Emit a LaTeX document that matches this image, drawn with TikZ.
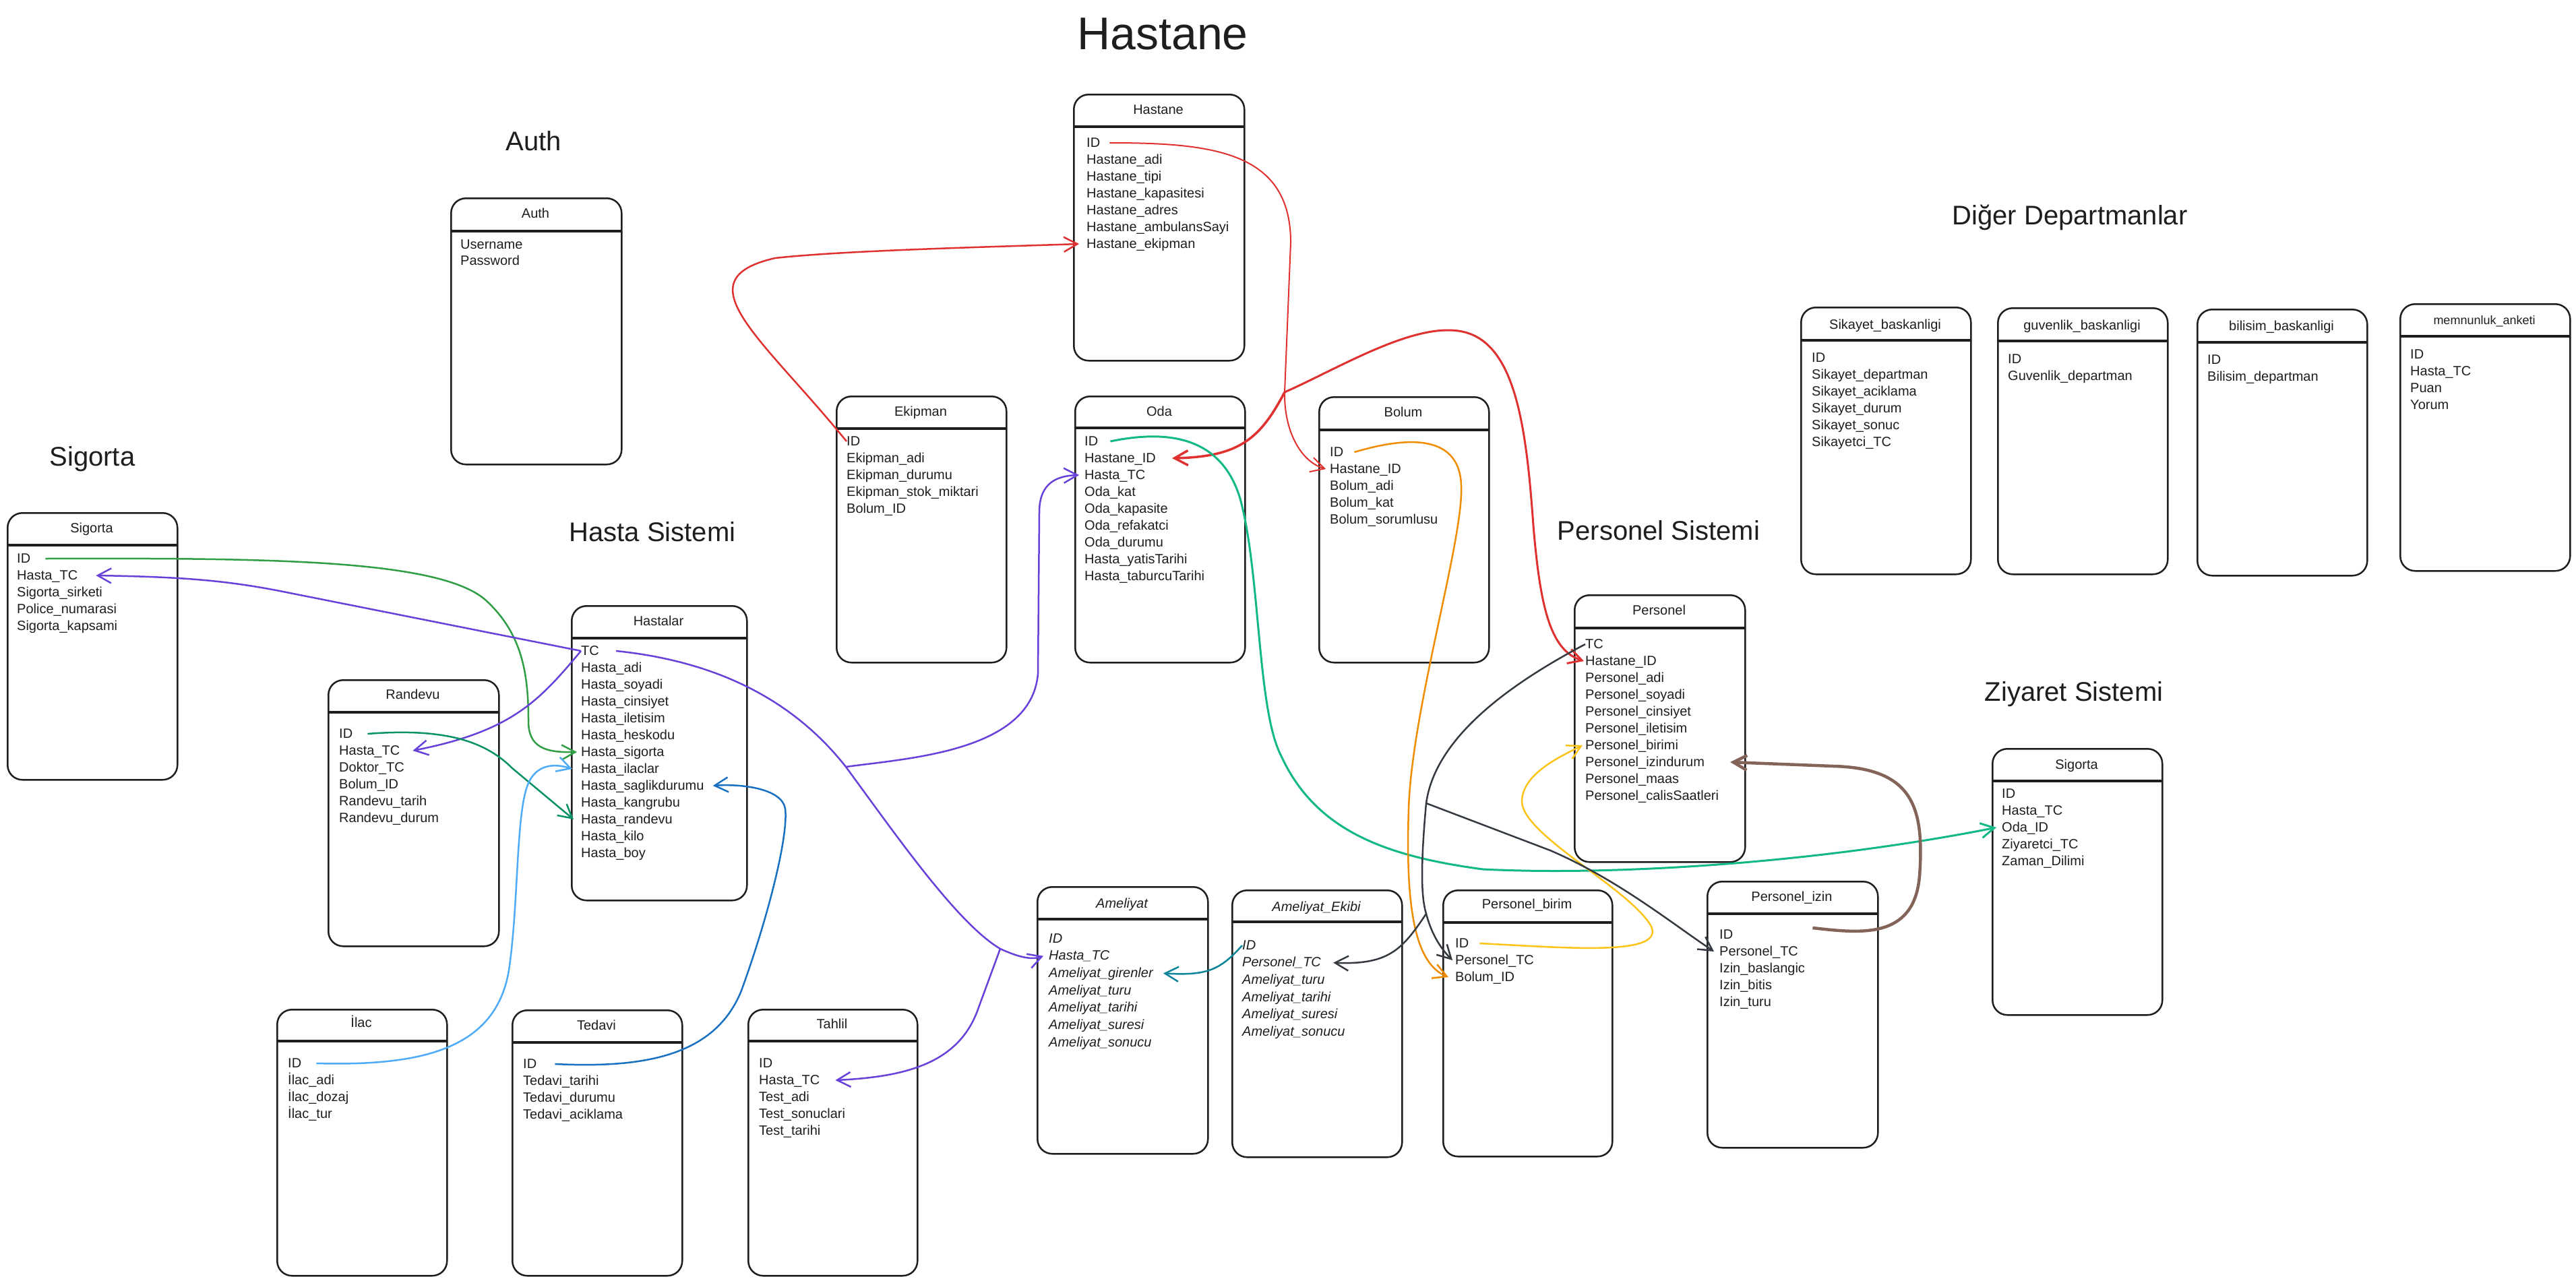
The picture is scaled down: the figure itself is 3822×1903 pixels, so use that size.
\documentclass[tikz,border=0pt]{standalone}
\usepackage{fontspec}
\setmainfont{Liberation Sans}
\usetikzlibrary{arrows.meta}
\definecolor{ink}{HTML}{1E1E1E}
\definecolor{cRed}{HTML}{E03131}
\definecolor{cGreen}{HTML}{2F9E44}
\definecolor{cPurple}{HTML}{6741D9}
\definecolor{cGreenR}{HTML}{099268}
\definecolor{cLBlue}{HTML}{4DABF7}
\definecolor{cBlue}{HTML}{1971C2}
\definecolor{cTeal}{HTML}{12B886}
\definecolor{cOrange}{HTML}{F08C00}
\definecolor{cYellow}{HTML}{FCC419}
\definecolor{cBrown}{HTML}{846358}
\definecolor{cDark}{HTML}{343A40}
\definecolor{cTeal2}{HTML}{0C8599}
\newcommand\dbrowfont{\fontsize{20}{24}\selectfont}
\def\dbsep{25}
\newcommand\dbbox[8]{%
  \node[tbox, minimum width={(#4-#2)*1pt}, minimum height={(#5-#3)*1pt}] (#1) at (#2,#3) {};
  \draw[tdiv] (#2,#6) -- (#4,#6);
  \node[thead] (#1-h) at ({(#2+#4)/2},{#7+6}) {#8};
}
\newcommand\dbrows[5][]{%
  \foreach \r [count=\i] in {#5} {\node[trow,#1] (#2-\i) at (#3,{#4+\dbsep*(\i-1)+6}) {\r};}
}
\tikzset{
  tbox/.style={draw=ink, line width=2.5pt, rounded corners=22pt, anchor=north west, inner sep=0pt},
  tdiv/.style={draw=ink, line width=4pt},
  thead/.style={anchor=base, inner sep=0pt, font=\dbrowfont, text=ink},
  trow/.style={anchor=base west, inner sep=0pt, text height=13pt, text depth=1pt, font=\dbrowfont, text=ink},
  lbl/.style={anchor=base, inner sep=0pt, font=\fontsize{40}{48}\selectfont, text=ink},
  conn/.style={line width=2.5pt, -{Straight Barb[length=20pt,width=22pt]}},
  plain/.style={line width=2.5pt},
}
\begin{document}
\begin{tikzpicture}[x=1pt,y=-1pt]
\fill[white] (0,0) rectangle (3822,1903);
\useasboundingbox (0,0) rectangle (3822,1903);

% titles
\node[anchor=base, inner sep=0pt, font=\fontsize{68}{80}\selectfont, text=ink] (title) at (1725,73) {Hastane};
\node[lbl] (lauth) at (792,223) {Auth};
\node[lbl] (lsig) at (137,691) {Sigorta};
\node[lbl] (lhasta) at (968,803) {Hasta Sistemi};
\node[lbl] (lpers) at (2461,801) {Personel Sistemi};
\node[lbl] (ldiger) at (3071,333) {Diğer Departmanlar};
\node[lbl] (lziy) at (3077,1040) {Ziyaret Sistemi};

% tables
\dbbox{auth}{668}{293}{921}{688}{343}{317}{Auth}
\def\dbsep{24}
\dbrows{auth}{683}{363}{Username,Password}
\def\dbsep{25}

\dbbox{sigorta}{10}{760}{262}{1156}{809}{784}{Sigorta}
\dbrows{sigorta}{25}{829}{ID,Hasta\_TC,Sigorta\_sirketi,Police\_numarasi,Sigorta\_kapsami}

\dbbox{hastalar}{847}{898}{1107}{1335}{947}{922}{Hastalar}
\dbrows{hastalar}{862}{966}{TC,Hasta\_adi,Hasta\_soyadi,Hasta\_cinsiyet,Hasta\_iletisim,Hasta\_heskodu,Hasta\_sigorta,Hasta\_ilaclar,Hasta\_saglikdurumu,Hasta\_kangrubu,Hasta\_randevu,Hasta\_kilo,Hasta\_boy}

\dbbox{randevu}{486}{1008}{739}{1403}{1057}{1031}{Randevu}
\dbrows{randevu}{503}{1089}{ID,Hasta\_TC,Doktor\_TC,Bolum\_ID,Randevu\_tarih,Randevu\_durum}

\dbbox{ilac}{410}{1497}{662}{1892}{1545}{1518}{İlac}
\dbrows{ilac}{427}{1578}{ID,İlac\_adi,İlac\_dozaj,İlac\_tur}

\dbbox{tedavi}{759}{1498}{1011}{1892}{1547}{1522}{Tedavi}
\dbrows{tedavi}{776}{1579}{ID,Tedavi\_tarihi,Tedavi\_durumu,Tedavi\_aciklama}

\dbbox{tahlil}{1109}{1497}{1360}{1892}{1545}{1520}{Tahlil}
\dbrows{tahlil}{1126}{1578}{ID,Hasta\_TC,Test\_adi,Test\_sonuclari,Test\_tarihi}

\dbbox{hastane}{1592}{139}{1845}{534}{188}{163}{Hastane}
\dbrows{hastane}{1612}{212}{ID,Hastane\_adi,Hastane\_tipi,Hastane\_kapasitesi,Hastane\_adres,Hastane\_ambulansSayi,Hastane\_ekipman}

\dbbox{ekipman}{1240}{587}{1492}{982}{636}{611}{Ekipman}
\dbrows{ekipman}{1256}{655}{ID,Ekipman\_adi,Ekipman\_durumu,Ekipman\_stok\_miktari,Bolum\_ID}

\dbbox{oda}{1594}{587}{1846}{982}{635}{611}{Oda}
\dbrows{oda}{1609}{655}{ID,Hastane\_ID,Hasta\_TC,Oda\_kat,Oda\_kapasite,Oda\_refakatci,Oda\_durumu,Hasta\_yatisTarihi,Hasta\_taburcuTarihi}

\dbbox{bolum}{1956}{588}{2208}{982}{638}{612}{Bolum}
\dbrows{bolum}{1973}{671}{ID,Hastane\_ID,Bolum\_adi,Bolum\_kat,Bolum\_sorumlusu}

\dbbox{personel}{2335}{882}{2588}{1278}{932}{906}{Personel}
\dbrows{personel}{2352}{956}{TC,Hastane\_ID,Personel\_adi,Personel\_soyadi,Personel\_cinsiyet,Personel\_iletisim,Personel\_birimi,Personel\_izindurum,Personel\_maas,Personel\_calisSaatleri}

\dbbox{sikayet}{2671}{455}{2923}{851}{505}{482}{Sikayet\_baskanligi}
\dbrows{sikayet}{2688}{531}{ID,Sikayet\_departman,Sikayet\_aciklama,Sikayet\_durum,Sikayet\_sonuc,Sikayetci\_TC}

\dbbox{guvenlik}{2963}{456}{3215}{851}{506}{483}{guvenlik\_baskanligi}
\dbrows{guvenlik}{2979}{533}{ID,Guvenlik\_departman}

\dbbox{bilisim}{3259}{458}{3511}{853}{508}{484}{bilisim\_baskanligi}
\dbrows{bilisim}{3275}{534}{ID,Bilisim\_departman}

\dbbox{memnun}{3560}{450}{3812}{846}{499}{475}{\fontsize{18}{22}\selectfont memnunluk\_anketi}
\dbrows{memnun}{3576}{526}{ID,Hasta\_TC,Puan,Yorum}

\dbbox{zsig}{2955}{1110}{3207}{1505}{1159}{1135}{Sigorta}
\dbrows{zsig}{2970}{1178}{ID,Hasta\_TC,Oda\_ID,Ziyaretci\_TC,Zaman\_Dilimi}

\def\dbsep{25.7}
\dbbox{amel}{1538}{1315}{1791}{1711}{1364}{1341}{\itshape Ameliyat}
\dbrows[font=\dbrowfont\itshape]{amel}{1556}{1393}{ID,Hasta\_TC,Ameliyat\_girenler,Ameliyat\_turu,Ameliyat\_tarihi,Ameliyat\_suresi,Ameliyat\_sonucu}

\dbbox{aekibi}{1827}{1320}{2079}{1716}{1368}{1346}{\itshape Ameliyat\_Ekibi}
\dbrows[font=\dbrowfont\itshape]{aekibi}{1843}{1403}{ID,Personel\_TC,Ameliyat\_turu,Ameliyat\_tarihi,Ameliyat\_suresi,Ameliyat\_sonucu}
\def\dbsep{25}

\dbbox{pbirim}{2140}{1320}{2391}{1715}{1369}{1342}{Personel\_birim}
\dbrows{pbirim}{2159}{1400}{ID,Personel\_TC,Bolum\_ID}

\dbbox{pizin}{2532}{1307}{2785}{1702}{1356}{1331}{Personel\_izin}
\dbrows{pizin}{2551}{1387}{ID,Personel\_TC,Izin\_baslangic,Izin\_bitis,Izin\_turu}

% junction coordinates
\coordinate (J) at (1906,582);
\coordinate (GI) at (1255,1138);
\coordinate (GH) at (1484,1408);
\coordinate (QA) at (2116,1192);
\coordinate (QB) at (2116,1356);

% red connectors
\draw[conn, cRed] (ekipman-1.west) .. controls (1130,500) and (1010,415) .. (1150,383) .. controls (1250,372) and (1450,367) .. ([xshift=-11pt]hastane-7.west);
\draw[plain, cRed, line width=2pt] ([xshift=14pt]hastane-1.east) .. controls (1800,212) and (1915,225) .. (1915,360) -- (J);
\draw[conn, cRed, line width=2pt] (J) .. controls (1905,640) and (1930,685) .. ([xshift=-6pt]bolum-2.west);
\draw[conn, cRed, line width=3.5pt] (J) .. controls (1870,650) and (1840,678) .. ([xshift=24pt]oda-2.east);
\draw[conn, cRed, line width=3pt] (J) .. controls (1990,545) and (2110,470) .. (2180,495) .. controls (2250,520) and (2265,640) .. (2275,780) .. controls (2285,900) and (2300,965) .. ([xshift=-2pt]personel-2.west);

% hasta system connectors
\draw[conn, cGreen] ([xshift=22pt]sigorta-1.east) .. controls (400,828) and (650,830) .. (720,890) .. controls (775,940) and (784,1000) .. (784,1070) .. controls (784,1110) and (810,1117) .. ([xshift=-6pt]hastalar-7.west);
\draw[conn, cPurple] (hastalar-1.west) -- (420,878) .. controls (330,860) and (260,856) .. ([xshift=27pt]sigorta-2.east);
\draw[conn, cPurple] (hastalar-1.west) .. controls (800,1040) and (760,1085) .. ([xshift=19pt]randevu-2.east);
\draw[conn, cPurple] ([xshift=25pt]hastalar-1.east) .. controls (1050,980) and (1170,1030) .. (GI) .. controls (1330,1240) and (1420,1370) .. (GH) .. controls (1510,1420) and (1530,1425) .. ([xshift=-8pt]amel-2.west);
\draw[conn, cPurple] (GH) -- (1452,1495) .. controls (1425,1575) and (1350,1598) .. ([xshift=23pt]tahlil-2.east);
\draw[conn, cPurple] (GI) .. controls (1350,1125) and (1530,1115) .. (1540,1000) -- (1542,760) .. controls (1542,715) and (1570,706) .. ([xshift=-8pt]oda-3.west);
\draw[conn, cGreenR] ([xshift=22pt]randevu-1.east) .. controls (660,1080) and (720,1100) .. (760,1140) -- ([xshift=-11pt]hastalar-11.west);
\draw[conn, cLBlue] ([xshift=22pt]ilac-1.east) .. controls (620,1582) and (735,1560) .. (755,1440) .. controls (770,1340) and (765,1200) .. (785,1160) .. controls (800,1130) and (830,1135) .. ([xshift=-13pt]hastalar-8.west);
\draw[conn, cBlue] ([xshift=27pt]tedavi-1.east) .. controls (950,1585) and (1060,1570) .. (1100,1470) .. controls (1140,1360) and (1170,1240) .. (1165,1200) .. controls (1160,1170) and (1100,1163) .. ([xshift=13pt]hastalar-9.east);

% oda -> ziyaret
\draw[conn, cTeal, line width=3pt] ([xshift=18pt]oda-1.east) .. controls (1720,640) and (1810,640) .. (1840,740) .. controls (1870,850) and (1865,1050) .. (1900,1120) .. controls (1950,1230) and (2050,1270) .. (2200,1290) .. controls (2400,1300) and (2700,1280) .. ([xshift=-8pt]zsig-3.west);

% personel system
\draw[conn, cOrange] ([xshift=16pt]bolum-1.east) .. controls (2080,650) and (2165,640) .. (2168,720) .. controls (2172,800) and (2095,1050) .. (2090,1200) .. controls (2085,1350) and (2100,1430) .. ([xshift=-10pt]pbirim-3.west);
\draw[conn, cYellow] ([xshift=16pt]pbirim-1.east) .. controls (2320,1406) and (2470,1420) .. (2450,1375) .. controls (2420,1320) and (2260,1240) .. (2258,1190) .. controls (2258,1150) and (2310,1125) .. ([xshift=-4pt]personel-7.west);
\draw[conn, cBrown, line width=4.5pt] ([xshift=118pt,yshift=10pt]pizin-1.east) .. controls (2760,1385) and (2840,1395) .. (2848,1300) .. controls (2855,1200) and (2840,1140) .. (2720,1137) -- ([xshift=38pt]personel-8.east);
\draw[conn, cDark] (personel-1.west) .. controls (2250,1010) and (2130,1090) .. (QA) .. controls (2108,1280) and (2108,1330) .. (QB) .. controls (2125,1390) and (2140,1410) .. ([xshift=-4pt]pbirim-2.west);
\draw[conn, cDark] (QA) -- (2300,1262) .. controls (2400,1305) and (2480,1370) .. ([xshift=-8pt]pizin-2.west);
\draw[conn, cDark] (QB) .. controls (2080,1410) and (2060,1432) .. ([xshift=18pt]aekibi-2.east);
\draw[conn, cTeal2] (aekibi-1.west) .. controls (1810,1440) and (1790,1448) .. ([xshift=15pt]amel-3.east);
\end{tikzpicture}
\end{document}
